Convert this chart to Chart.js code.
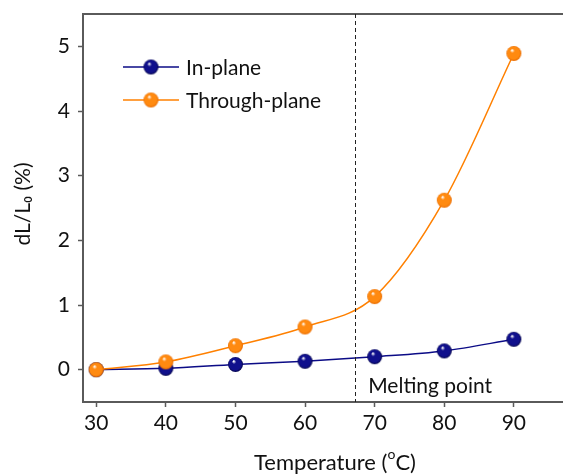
<!DOCTYPE html>
<html>
<head>
<meta charset="utf-8">
<script src="https://cdn.jsdelivr.net/npm/chart.js@4"></script>
<style>
  html, body { margin: 0; padding: 0; background: #fff; overflow: hidden; width: 563px; height: 475px; }
  #wrap { width: 580px; height: 475px; position: relative; }
</style>
</head>
<body>
<div id="wrap"><canvas id="chart"></canvas></div>
<script>
// ===== DATOS =====
const temperatures = [30, 40, 50, 60, 70, 80, 90];
const inPlane = [0, 0.02, 0.08, 0.13, 0.20, 0.29, 0.47];
const throughPlane = [0, 0.12, 0.37, 0.66, 1.13, 2.62, 4.89];
const xTicks = [30, 40, 50, 60, 70, 80, 90];
const yTicks = [0, 1, 2, 3, 4, 5];
const meltingPoint = 67.2;
const seriesNames = ['In-plane', 'Through-plane'];

const FONT = 'Lato, "Open Sans", sans-serif';
const axisColor = '#5a5a5a';
const navy = '#0b0b86';
const orange = '#ff8000';

// bolita con brillo (estilo 3D)
function makeBall(base, dark, r) {
    const c = document.createElement('canvas');
    const size = Math.ceil(r * 2 + 2);
    c.width = size; c.height = size;
    const ctx = c.getContext('2d');
    const cx = size / 2, cy = size / 2;
    const g = ctx.createRadialGradient(cx - r * 0.25, cy - r * 0.45, r * 0.05, cx, cy, r);
    g.addColorStop(0, '#ffffff');
    g.addColorStop(0.25, base);
    g.addColorStop(0.8, base);
    g.addColorStop(1, dark);
    ctx.fillStyle = g;
    ctx.beginPath();
    ctx.arc(cx, cy, r, 0, Math.PI * 2);
    ctx.fill();
    return c;
}
const navyBall = makeBall('#10108c', '#05054a', 7.5);
const orangeBall = makeBall('#ff8a10', '#e86a00', 7.5);

const toPoints = (ys) => temperatures.map((t, i) => ({ x: t, y: ys[i] }));

// sin relleno extra alrededor de los ejes
function fixSize(s, w, h) {
    if (w !== null) s.width = w;
    if (h !== null) s.height = h;
    s.paddingTop = 0; s.paddingBottom = 0;
    s.paddingLeft = 0; s.paddingRight = 0;
}

// ===== DECORACION: línea de fusión, leyenda, títulos =====
const decorPlugin = {
    id: 'decor',
    afterDatasetsDraw(chart) {
        const { ctx, chartArea, scales } = chart;
        const mx = scales.x.getPixelForValue(meltingPoint);
        ctx.save();
        // línea punteada
        ctx.strokeStyle = '#222';
        ctx.lineWidth = 1;
        ctx.setLineDash([4, 3]);
        ctx.beginPath();
        ctx.moveTo(Math.round(mx) + 0.5, chartArea.top);
        ctx.lineTo(Math.round(mx) + 0.5, chartArea.bottom);
        ctx.stroke();
        ctx.setLineDash([]);

        ctx.fillStyle = '#111';
        ctx.font = '21px ' + FONT;
        ctx.textBaseline = 'alphabetic';
        ctx.textAlign = 'left';
        ctx.fillText('Melting point', mx + 13, 393);

        // leyenda
        const items = [
            { name: seriesNames[0], color: navy, ball: navyBall, y: 67 },
            { name: seriesNames[1], color: orange, ball: orangeBall, y: 100 }
        ];
        items.forEach(it => {
            ctx.strokeStyle = it.color;
            ctx.lineWidth = 1.5;
            ctx.beginPath();
            ctx.moveTo(123, it.y);
            ctx.lineTo(179, it.y);
            ctx.stroke();
            ctx.drawImage(it.ball, 151 - it.ball.width / 2, it.y - it.ball.height / 2);
            ctx.fillStyle = '#111';
            ctx.fillText(it.name, 186, it.y + 8);
        });

        // título eje x
        ctx.font = '22px ' + FONT;
        const p1 = 'Temperature (', p3 = 'C)';
        const small = '14px ' + FONT;
        const w1 = ctx.measureText(p1).width;
        const w3 = ctx.measureText(p3).width;
        ctx.font = small;
        const w2 = ctx.measureText('o').width;
        let x = 335 - (w1 + w2 + w3) / 2;
        ctx.font = '22px ' + FONT;
        ctx.fillText(p1, x, 470);
        x += w1;
        ctx.font = small;
        ctx.fillText('o', x, 459);
        x += w2;
        ctx.font = '22px ' + FONT;
        ctx.fillText(p3, x, 470);

        // título eje y
        ctx.translate(30, 204);
        ctx.rotate(-Math.PI / 2);
        ctx.textAlign = 'center';
        ctx.font = '21px ' + FONT;
        ctx.fillText('dL/L\u2080 (%)', 0, 0);
        ctx.restore();
    }
};

new Chart(document.getElementById('chart'), {
    type: 'line',
    data: {
        datasets: [
            {
                label: seriesNames[1],
                data: toPoints(throughPlane),
                borderColor: orange,
                borderWidth: 1.5,
                pointStyle: orangeBall,
                cubicInterpolationMode: 'monotone',
                order: 0
            },
            {
                label: seriesNames[0],
                data: toPoints(inPlane),
                borderColor: navy,
                borderWidth: 1.5,
                pointStyle: navyBall,
                cubicInterpolationMode: 'monotone',
                order: 1
            }
        ]
    },
    options: {
        responsive: true,
        maintainAspectRatio: false,
        animation: false,
        clip: false,
        layout: { autoPadding: false, padding: { top: 14, right: 0, left: 0, bottom: 0 } },
        plugins: { legend: { display: false }, tooltip: { enabled: false } },
        scales: {
            x: {
                type: 'linear',
                min: 28.1,
                max: 99.5,
                afterBuildTicks: s => { s.ticks = xTicks.map(v => ({ value: v })); },
                afterFit: s => fixSize(s, null, 73),
                ticks: { color: '#111', font: { family: FONT, size: 21 }, padding: 4, maxRotation: 0 },
                grid: { drawOnChartArea: false, tickLength: 5, color: axisColor, tickWidth: 1.5 },
                border: { color: axisColor, width: 2 }
            },
            xTop: {
                type: 'linear',
                position: 'top',
                min: 28.1,
                max: 99.5,
                afterFit: s => fixSize(s, null, 0),
                ticks: { display: false },
                grid: { display: false },
                border: { color: axisColor, width: 2 }
            },
            y: {
                min: -0.5,
                max: 5.5,
                afterBuildTicks: s => { s.ticks = yTicks.map(v => ({ value: v })); },
                afterFit: s => fixSize(s, 83, null),
                ticks: { color: '#111', font: { family: FONT, size: 21 }, padding: 8 },
                grid: { drawOnChartArea: false, tickLength: 5, color: axisColor, tickWidth: 1.5 },
                border: { color: axisColor, width: 2 }
            }
        }
    },
    plugins: [decorPlugin]
});
</script>
</body>
</html>
